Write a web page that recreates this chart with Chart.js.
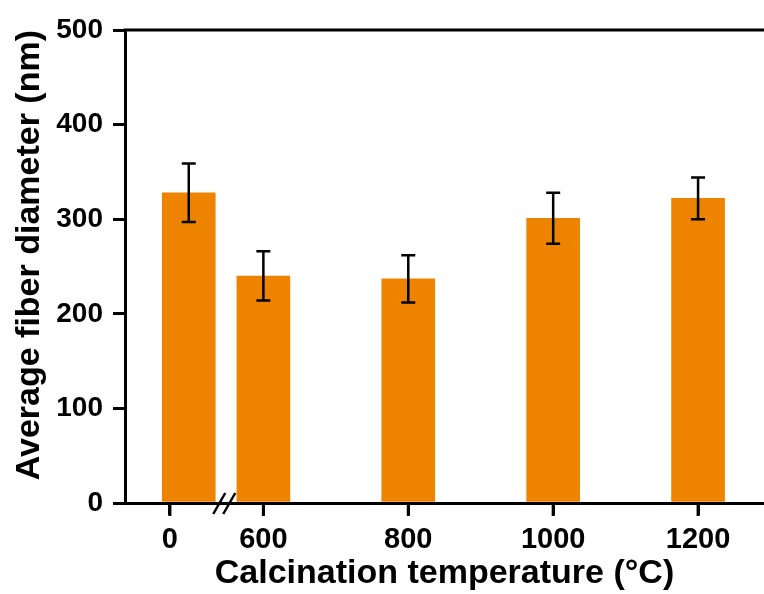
<!DOCTYPE html>
<html>
<head>
<meta charset="utf-8">
<script src="https://cdn.jsdelivr.net/npm/chart.js@4"></script>
<style>
  html, body { margin: 0; padding: 0; background: #fff; }
  #wrap { width: 764px; height: 594px; }
</style>
</head>
<body>
<div id="wrap"><canvas id="fiberChart"></canvas></div>
<script>
// calcination temperature (°C) and mean fiber diameter (nm)
const temperatures = ['0', '600', '800', '1000', '1200'];
const diameters = [328, 240, 237, 301, 322];
const errors = [31, 26, 25, 27, 22];
const yTicks = [0, 100, 200, 300, 400, 500];

// broken x axis: the as-spun (0 °C) sample sits just left of the break
const barPos = [497, 600, 800, 1000, 1200];
const tickPos = [471, 600, 800, 1000, 1200];
const breakPos = 546;

const FONT = "'Liberation Sans', Arial, sans-serif";
const ORANGE = '#ee8300';

// error bars, top frame line, x tick marks and the axis break mark
const extras = {
    id: 'extras',
    afterDraw(chart) {
        const ctx = chart.ctx;
        const x = chart.scales.x, y = chart.scales.y;
        const area = chart.chartArea;
        ctx.save();
        ctx.strokeStyle = '#000';

        ctx.lineWidth = 2.5;
        diameters.forEach((v, i) => {
            const px = x.getPixelForValue(barPos[i]);
            const hi = y.getPixelForValue(v + errors[i]);
            const lo = y.getPixelForValue(v - errors[i]);
            ctx.beginPath();
            ctx.moveTo(px, hi); ctx.lineTo(px, lo);
            ctx.moveTo(px - 7, hi); ctx.lineTo(px + 7, hi);
            ctx.moveTo(px - 7, lo); ctx.lineTo(px + 7, lo);
            ctx.stroke();
        });

        ctx.lineWidth = 3;
        const top = y.getPixelForValue(500);
        ctx.beginPath();
        ctx.moveTo(area.left - 1.5, top);
        ctx.lineTo(chart.width, top);
        ctx.stroke();

        const base = y.getPixelForValue(0);
        tickPos.forEach(v => {
            const px = x.getPixelForValue(v);
            ctx.beginPath();
            ctx.moveTo(px, base);
            ctx.lineTo(px, base + 13);
            ctx.stroke();
        });

        const bx = x.getPixelForValue(breakPos);
        ctx.lineWidth = 2.5;
        [-5, 5].forEach(dx => {
            ctx.beginPath();
            ctx.moveTo(bx + dx - 6, base + 11);
            ctx.lineTo(bx + dx + 6, base - 10);
            ctx.stroke();
        });
        ctx.restore();
    }
};

new Chart(document.getElementById('fiberChart'), {
    type: 'bar',
    data: {
        datasets: [{
            data: diameters.map((v, i) => ({ x: barPos[i], y: v })),
            backgroundColor: ORANGE,
            borderWidth: 0,
            barThickness: 53
        }]
    },
    options: {
        responsive: true,
        maintainAspectRatio: false,
        animation: false,
        layout: { padding: { top: 30, left: 0, right: 0, bottom: 0 } },
        plugins: { legend: { display: false }, tooltip: { enabled: false } },
        scales: {
            x: {
                type: 'linear',
                min: 409,
                max: 1291,
                offset: false,
                afterBuildTicks: s => { s.ticks = tickPos.map(v => ({ value: v })); },
                afterFit: s => { s.height = 91; },
                grid: { display: true, offset: false, drawOnChartArea: false, drawTicks: true, tickLength: 12, lineWidth: 3, color: '#000' },
                border: { display: true, color: '#000', width: 3 },
                ticks: {
                    autoSkip: false,
                    maxRotation: 0,
                    padding: 8,
                    color: '#000',
                    font: { family: FONT, size: 29, weight: 'bold' },
                    callback: (v) => temperatures[tickPos.indexOf(v)]
                },
                title: {
                    display: true,
                    text: 'Calcination temperature (°C)',
                    color: '#000',
                    font: { family: FONT, size: 34, weight: 'bold' },
                    padding: { top: 0, bottom: 0 }
                }
            },
            y: {
                min: 0,
                max: 500,
                afterBuildTicks: s => { s.ticks = yTicks.map(v => ({ value: v })); },
                afterFit: s => { s.width = 125; },
                grid: { display: true, drawOnChartArea: false, drawTicks: true, tickLength: 12, lineWidth: 3, color: '#000' },
                border: { display: true, color: '#000', width: 3 },
                ticks: {
                    padding: 10,
                    color: '#000',
                    font: { family: FONT, size: 28, weight: 'bold' }
                },
                title: {
                    display: true,
                    text: 'Average fiber diameter (nm)',
                    align: 'end',
                    color: '#000',
                    font: { family: FONT, size: 34, weight: 'bold' },
                    padding: { top: 9, bottom: 0 }
                }
            }
        }
    },
    plugins: [extras]
});
</script>
</body>
</html>
